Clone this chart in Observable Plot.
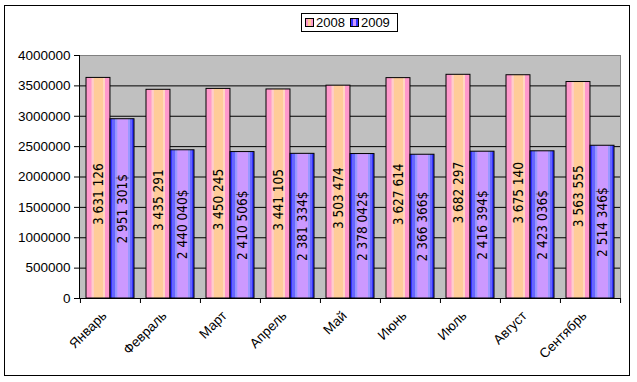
<!DOCTYPE html>
<html>
<head>
<meta charset="utf-8">
<script src="https://cdn.jsdelivr.net/npm/d3@7"></script>
<script src="https://cdn.jsdelivr.net/npm/@observablehq/plot@0.6"></script>
<style>
  html, body { margin: 0; padding: 0; background: #fff; }
  #wrap { position: relative; width: 637px; height: 382px; overflow: hidden; font-family: "Liberation Sans", Arial, sans-serif; }
  #border { position: absolute; left: 4px; top: 5px; width: 626px; height: 371px; box-sizing: border-box; border: 1px solid #000; }
  #legend { position: absolute; left: 301px; top: 13px; width: 97px; height: 19px; box-sizing: border-box; border: 1px solid #000; background: #fff; font-size: 13px; display: flex; align-items: center; padding-left: 3px; }
  #legend .sw { display: inline-block; width: 7px; height: 7px; border: 1px solid #000; margin-right: 2px; }
  #legend .item { display: inline-flex; align-items: center; margin-right: 5px; }
  #chart { position: absolute; left: 0; top: 40px; }
  .barlabel text { font-stretch: condensed; }
</style>
</head>
<body>
<div id="wrap">
  <div id="border"></div>
  <div id="legend"></div>
  <div id="chart"></div>
</div>
<script>
const months = ["Январь", "Февраль", "Март", "Апрель", "Май", "Июнь", "Июль", "Август", "Сентябрь"];
const series = ["2008", "2009"];
const values2008 = [3631126, 3435291, 3450245, 3441105, 3503474, 3627614, 3682297, 3675140, 3563555];
const values2009 = [2951301, 2440040, 2410506, 2381334, 2378042, 2366366, 2416394, 2423036, 2514346];
const yTicks = [0, 500000, 1000000, 1500000, 2000000, 2500000, 3000000, 3500000, 4000000];

const d2008 = months.map((m, i) => ({month: m, value: values2008[i]}));
const d2009 = months.map((m, i) => ({month: m, value: values2009[i]}));

const W = 637, H = 340, ML = 79, MR = 17, MT = 15, MB = 82;
const step = (W - ML - MR) / months.length;
const bw = step * 0.8;
const fmt = v => d3.format(",")(v).replace(/,/g, " ");
const labelFont = {fontSize: 13.5, fontFamily: "'DejaVu Sans', sans-serif"};

const plot = Plot.plot({
  width: W, height: H,
  marginLeft: ML, marginRight: MR, marginTop: MT, marginBottom: MB,
  style: {fontFamily: "'Liberation Sans', Arial, sans-serif", fontSize: "13px", color: "#000", background: "transparent"},
  x: {domain: months, paddingInner: 0.2, paddingOuter: 0.1, label: null},
  y: {domain: [0, 4000000], label: null},
  marks: [
    Plot.frame({fill: "#C0C0C0", stroke: null}),
    Plot.gridY(yTicks.filter(t => t > 0 && t < 4000000), {stroke: "#000", strokeOpacity: 1}),
    Plot.frame({anchor: "top", stroke: "#808080"}),
    Plot.frame({anchor: "right", stroke: "#808080"}),
    Plot.barY(d2008, {x: "month", y: "value", fill: "url(#g2008)", stroke: "#000", strokeWidth: 1, insetRight: bw / 2}),
    Plot.barY(d2009, {x: "month", y: "value", fill: "url(#g2009)", stroke: "#000", strokeWidth: 1, insetLeft: bw / 2}),
    Plot.text(d2008, {x: "month", y: d => d.value / 2, text: d => fmt(d.value), rotate: -90, dx: -bw / 4 + 0.5, dy: 6, fill: "#000", ...labelFont}),
    Plot.text(d2009, {x: "month", y: d => d.value / 2, text: d => fmt(d.value) + "$", rotate: -90, dx: bw / 4 + 0.5, fill: "#000", ...labelFont}),
    Plot.frame({anchor: "left", stroke: "#000"}),
    Plot.ruleY([0], {stroke: "#000"}),
    Plot.axisY(yTicks, {tickSize: 5, tickPadding: 4, tickFormat: d => String(d), label: null, stroke: "#000", fontSize: 13.5}),
    Plot.axisX(months, {tickSize: 5, text: null, dx: -step / 2, label: null, stroke: "#000"}),
    Plot.axisX(months.slice(-1), {tickSize: 5, text: null, dx: step / 2, label: null, stroke: "#000"}),
    Plot.axisX(months, {tickSize: 0, tickPadding: 15, tickRotate: -45, dx: -6, label: null, fontSize: 13.5})
  ]
});

d3.select(plot).selectAll("g[aria-label='text']").classed("barlabel", true);

const defs = d3.select(plot).insert("defs", ":first-child");
function grad(id, stops) {
  const g = defs.append("linearGradient").attr("id", id).attr("x1", "0").attr("x2", "1").attr("y1", "0").attr("y2", "0");
  stops.forEach(([o, c]) => g.append("stop").attr("offset", o).attr("stop-color", c));
}
grad("g2008", [[0, "#FF99CC"], [0.22, "#FF99CC"], [0.24, "#FFCCCC"], [0.31, "#FFCCCC"], [0.33, "#FFCC99"], [0.70, "#FFCC99"], [0.72, "#FFD6C0"], [0.78, "#FFD6C0"], [0.80, "#FF99CC"], [1, "#FF99CC"]]);
grad("g2009", [[0, "#3333FF"], [0.07, "#3333FF"], [0.09, "#6666FF"], [0.20, "#6666FF"], [0.23, "#9999FF"], [0.29, "#9999FF"], [0.32, "#CC99FF"], [0.74, "#CC99FF"], [0.77, "#9999FF"], [0.82, "#9999FF"], [0.84, "#6666FF"], [0.90, "#6666FF"], [0.92, "#3333FF"], [1, "#3333FF"]]);

document.getElementById("chart").appendChild(plot);

const legend = document.getElementById("legend");
[["2008", "linear-gradient(to right, #FF99CC 0 25%, #FFCC99 25% 75%, #FF99CC 75%)"],
 ["2009", "linear-gradient(to right, #3333FF 0 25%, #CC99FF 25% 75%, #3333FF 75%)"]].forEach(([name, bg], i) => {
  const it = document.createElement("span");
  it.className = "item";
  const sw = document.createElement("span");
  sw.className = "sw";
  sw.style.background = bg;
  it.appendChild(sw);
  it.appendChild(document.createTextNode(series[i]));
  legend.appendChild(it);
});
</script>
</body>
</html>
